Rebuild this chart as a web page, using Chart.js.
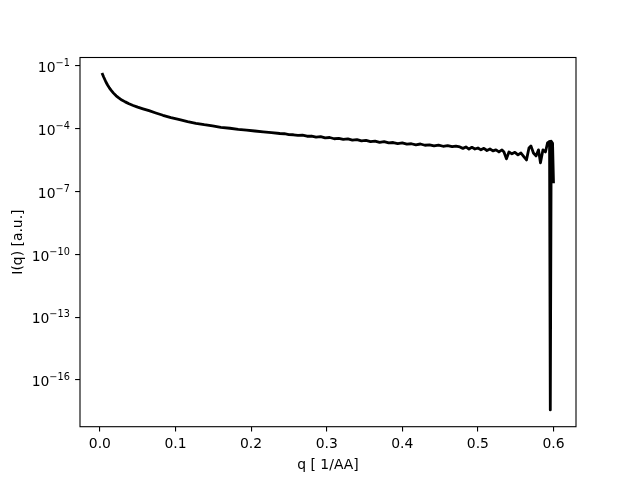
<!DOCTYPE html>
<html>
<head>
<meta charset="utf-8">
<script src="https://cdn.jsdelivr.net/npm/chart.js@4.4.0/dist/chart.umd.min.js"></script>
<style>
  html, body { margin: 0; padding: 0; background: #fff; }
  canvas { display: block; }
</style>
</head>
<body>
<canvas id="chart" width="640" height="480"></canvas>
<script>
// scattering vector q [1/AA]
const q = [
  0.0035, 0.005, 0.0065, 0.008, 0.010, 0.0125, 0.015, 0.018, 0.0215, 0.025,
  0.029, 0.0335, 0.0385, 0.044, 0.050, 0.057, 0.065, 0.074, 0.0834, 0.094,
  0.1055, 0.116, 0.127, 0.138, 0.149, 0.160, 0.172, 0.183, 0.194, 0.205,
  0.216, 0.227, 0.238, 0.244, 0.250, 0.256, 0.262, 0.268, 0.274, 0.280,
  0.286, 0.292, 0.298, 0.304, 0.310, 0.316, 0.322, 0.328, 0.334, 0.340,
  0.346, 0.352, 0.358, 0.364, 0.370, 0.376, 0.382, 0.388, 0.394, 0.400,
  0.406, 0.412, 0.418, 0.424, 0.430, 0.436, 0.442, 0.448, 0.454, 0.460,
  0.466, 0.471, 0.4762, 0.4802, 0.4842, 0.4882, 0.4921, 0.4961, 0.5001, 0.5041,
  0.5080, 0.5120, 0.5160, 0.5199, 0.5239, 0.5279, 0.5319, 0.5345, 0.5378, 0.5411,
  0.5451, 0.5490, 0.5530, 0.5570, 0.5610, 0.5643, 0.5676, 0.5702, 0.5735, 0.5769,
  0.5802, 0.5828, 0.5861, 0.5894, 0.5921, 0.5948, 0.5958, 0.5970, 0.5988, 0.6000
];

// intensity I(q) [a.u.]
const intensity = [
  3.98e-2, 2.95e-2, 2.24e-2, 1.70e-2, 1.26e-2, 8.91e-3, 6.76e-3, 5.01e-3, 3.72e-3, 2.95e-3,
  2.34e-3, 1.91e-3, 1.55e-3, 1.29e-3, 1.07e-3, 8.91e-4, 7.24e-4, 5.62e-4, 4.37e-4, 3.39e-4,
  2.69e-4, 2.19e-4, 1.82e-4, 1.55e-4, 1.35e-4, 1.17e-4, 1.05e-4, 9.33e-5, 8.51e-5, 7.76e-5,
  7.08e-5, 6.46e-5, 5.89e-5, 5.75e-5, 5.25e-5, 5.13e-5, 4.79e-5, 4.90e-5, 4.37e-5, 4.47e-5,
  3.98e-5, 4.17e-5, 3.63e-5, 3.80e-5, 3.31e-5, 3.47e-5, 3.09e-5, 3.24e-5, 2.82e-5, 3.02e-5,
  2.63e-5, 2.75e-5, 2.40e-5, 2.57e-5, 2.24e-5, 2.40e-5, 2.09e-5, 2.19e-5, 1.95e-5, 2.09e-5,
  1.82e-5, 1.91e-5, 1.70e-5, 1.86e-5, 1.62e-5, 1.70e-5, 1.51e-5, 1.66e-5, 1.45e-5, 1.55e-5,
  1.38e-5, 1.48e-5, 1.35e-5, 1.15e-5, 1.35e-5, 1.07e-5, 1.29e-5, 1.07e-5, 1.20e-5, 9.77e-6,
  1.15e-5, 9.12e-6, 1.07e-5, 8.71e-6, 9.77e-6, 7.76e-6, 9.77e-6, 7.76e-6, 3.63e-6, 7.76e-6,
  6.31e-6, 7.41e-6, 5.62e-6, 6.92e-6, 4.47e-6, 3.24e-6, 1.20e-5, 1.51e-5, 6.92e-6, 5.01e-6,
  9.77e-6, 2.34e-6, 9.77e-6, 7.76e-6, 2.09e-5, 2.45e-5, 3.72e-18, 2.51e-5, 2.00e-5, 2.88e-7
];

const xTicks = [0.0, 0.1, 0.2, 0.3, 0.4, 0.5, 0.6];
const yTickExponents = [-1, -4, -7, -10, -13, -16];

const FONT = '"DejaVu Sans", sans-serif';
const TICK_LEN = 4.9;

const labelsPlugin = {
  id: 'mplLabels',
  afterDraw(chart) {
    const { ctx, chartArea: a, scales } = chart;
    ctx.save();
    // axes frame
    ctx.strokeStyle = '#000';
    ctx.lineWidth = 1.1;
    ctx.strokeRect(a.left, a.top, a.right - a.left, a.bottom - a.top);

    ctx.fillStyle = '#000';
    // x tick labels
    ctx.font = '13.9px ' + FONT;
    ctx.textAlign = 'center';
    ctx.textBaseline = 'alphabetic';
    xTicks.forEach(v => {
      ctx.fillText(v.toFixed(1), scales.x.getPixelForValue(v), 447.5);
    });

    // y tick labels 10^n
    yTickExponents.forEach(e => {
      const y = scales.y.getPixelForValue(Math.pow(10, e));
      const expText = '\u2212' + Math.abs(e);
      ctx.font = '9.7px ' + FONT;
      const expW = ctx.measureText(expText).width;
      const right = 69.8;
      ctx.textAlign = 'left';
      ctx.fillText(expText, right - expW, y + 0.3);
      ctx.font = '13.9px ' + FONT;
      ctx.textAlign = 'right';
      ctx.fillText('10', right - expW, y + 6.2);
    });

    // axis titles
    ctx.font = '13.9px ' + FONT;
    ctx.textAlign = 'center';
    ctx.fillText('q [ 1/AA]', (a.left + a.right) / 2, 469);
    ctx.translate(22, (a.top + a.bottom) / 2);
    ctx.rotate(-Math.PI / 2);
    ctx.fillText('I(q) [a.u.]', 0, 0);
    ctx.restore();
  }
};

new Chart(document.getElementById('chart'), {
  type: 'line',
  data: {
    datasets: [{
      data: q.map((x, i) => ({ x: x, y: intensity[i] })),
      borderColor: '#000',
      borderWidth: 2.8,
      pointRadius: 0,
      tension: 0,
      fill: false,
      borderCapStyle: 'square',
      borderJoinStyle: 'round'
    }]
  },
  options: {
    responsive: false,
    animation: false,
    layout: { padding: { left: 0, top: 57.5, right: 64, bottom: 0 } },
    plugins: { legend: { display: false }, tooltip: { enabled: false } },
    scales: {
      x: {
        type: 'linear',
        min: -0.0263,
        max: 0.6298,
        afterBuildTicks: s => { s.ticks = xTicks.map(v => ({ value: v })); },
        afterFit: s => { s.height = 53.3; },
        ticks: { callback: () => '', padding: 0 },
        grid: { drawOnChartArea: false, drawTicks: true, tickLength: TICK_LEN, color: '#000', lineWidth: 1.1 },
        border: { display: false }
      },
      y: {
        type: 'logarithmic',
        min: Math.pow(10, -18.23),
        max: Math.pow(10, -0.60),
        afterBuildTicks: s => { s.ticks = yTickExponents.map(e => ({ value: Math.pow(10, e) })); },
        afterFit: s => { s.width = 80; },
        ticks: { callback: () => '', padding: 0 },
        grid: { drawOnChartArea: false, drawTicks: true, tickLength: TICK_LEN, color: '#000', lineWidth: 1.1 },
        border: { display: false }
      }
    }
  },
  plugins: [labelsPlugin]
});
</script>
</body>
</html>
